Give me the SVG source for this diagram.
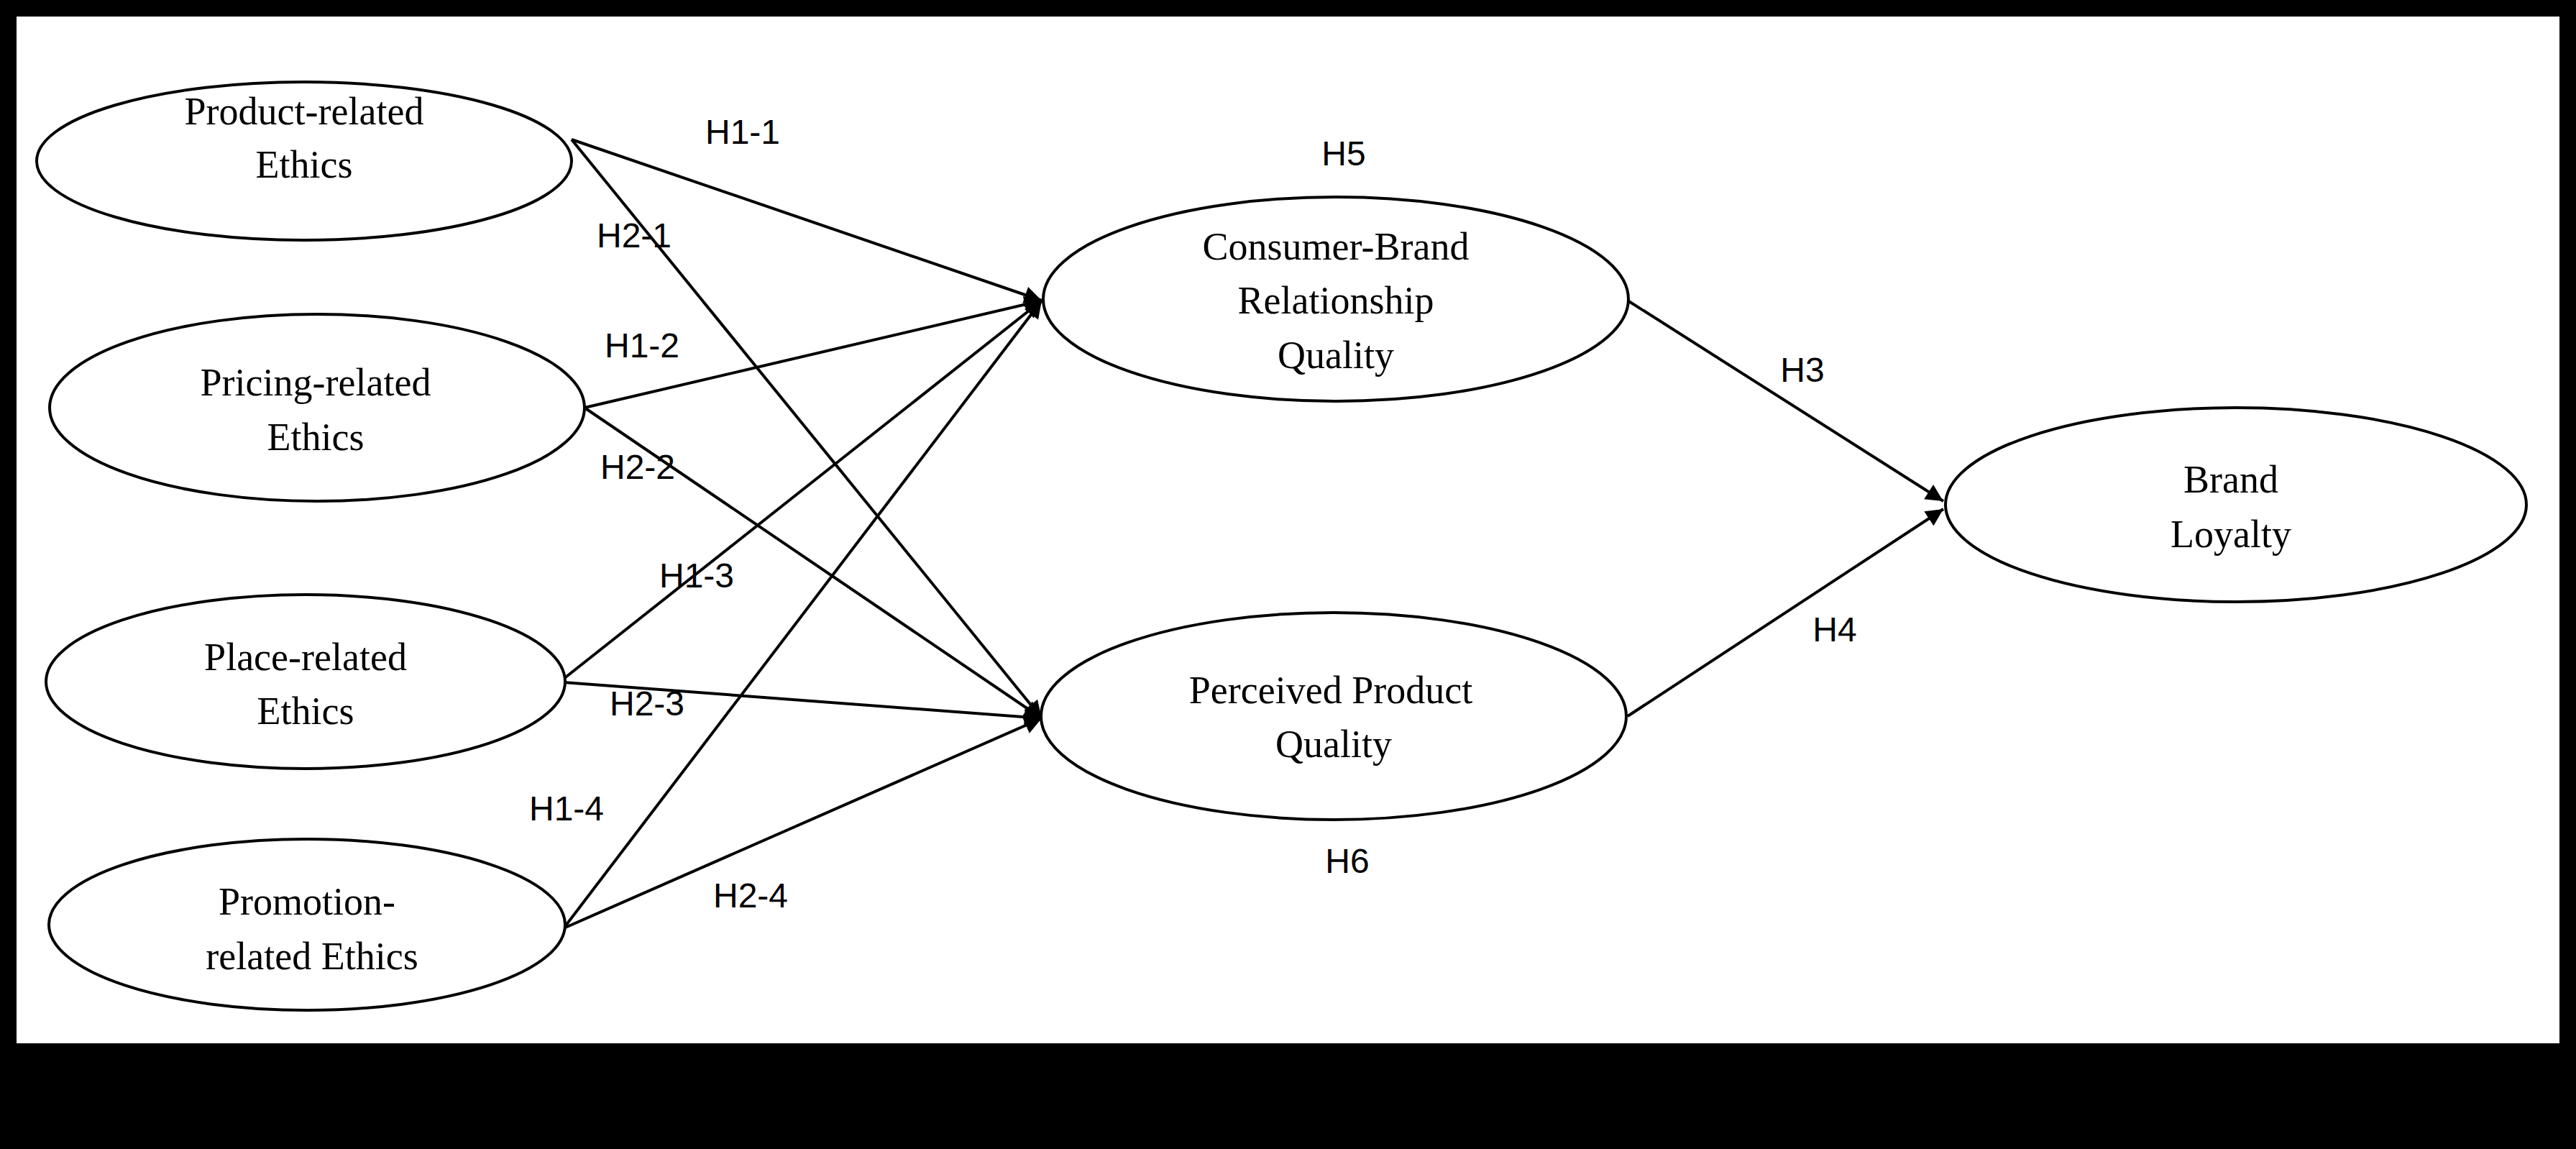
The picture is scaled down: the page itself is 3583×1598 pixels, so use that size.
<svg xmlns="http://www.w3.org/2000/svg" width="3583" height="1598" viewBox="0 0 3583 1598">
<style>
.n{fill:#fff;stroke:#000;stroke-width:4}
.t{font-family:"Liberation Serif",serif;font-size:54px;text-anchor:middle;fill:#000}
.h{font-family:"Liberation Sans",sans-serif;font-size:48px;text-anchor:middle;fill:#000}
.c line{stroke:#000;stroke-width:4;marker-end:url(#a)}
</style>
<defs><marker id="a" viewBox="0 0 10 10" refX="10" refY="5" markerWidth="8" markerHeight="8" markerUnits="userSpaceOnUse" orient="auto" style="overflow:visible"><path d="M0,0 L10,5 L0,10 z" fill="#000" transform="scale(3) translate(-6.7,-3.3)"/></marker></defs>
<rect width="3583" height="1598" fill="#000"/>
<rect x="23" y="23" width="3537" height="1428" fill="#fff"/>
<g class="c">
<line x1="795" y1="194" x2="1449" y2="418"/>
<line x1="795" y1="194" x2="1449" y2="999"/>
<line x1="813" y1="567" x2="1449" y2="418"/>
<line x1="813" y1="567" x2="1449" y2="999"/>
<line x1="784" y1="944" x2="1449" y2="418"/>
<line x1="784" y1="949" x2="1449" y2="999"/>
<line x1="784" y1="1291" x2="1449" y2="418"/>
<line x1="784" y1="1291" x2="1449" y2="999"/>
<line x1="2264" y1="418" x2="2703" y2="697"/>
<line x1="2264" y1="996" x2="2703" y2="708"/>
</g>
<g id="product"><ellipse class="n" cx="423" cy="224" rx="372" ry="110"/><text class="t" x="423" y="173">Product-related</text><text class="t" x="423" y="247">Ethics</text></g>
<g id="pricing"><ellipse class="n" cx="441" cy="567" rx="372" ry="130"/><text class="t" x="439" y="550">Pricing-related</text><text class="t" x="439" y="626">Ethics</text></g>
<g id="place"><ellipse class="n" cx="425" cy="948" rx="361" ry="121"/><text class="t" x="425" y="932">Place-related</text><text class="t" x="425" y="1007">Ethics</text></g>
<g id="promotion"><ellipse class="n" cx="427" cy="1286" rx="359" ry="119"/><text class="t" x="427" y="1272">Promotion-</text><text class="t" x="434" y="1348">related Ethics</text></g>
<g id="cbrq"><ellipse class="n" cx="1858" cy="416" rx="407" ry="142"/><text class="t" x="1858" y="361">Consumer-Brand</text><text class="t" x="1858" y="436">Relationship</text><text class="t" x="1858" y="512">Quality</text></g>
<g id="ppq"><ellipse class="n" cx="1855" cy="996" rx="407" ry="144"/><text class="t" x="1851" y="978">Perceived Product</text><text class="t" x="1855" y="1053">Quality</text></g>
<g id="loyalty"><ellipse class="n" cx="3110" cy="702" rx="404" ry="135"/><text class="t" x="3103" y="685">Brand</text><text class="t" x="3103" y="761">Loyalty</text></g>
<g id="labels">
<text class="h" x="1033" y="200">H1-1</text>
<text class="h" x="882" y="344">H2-1</text>
<text class="h" x="893" y="497">H1-2</text>
<text class="h" x="887" y="666">H2-2</text>
<text class="h" x="969" y="817">H1-3</text>
<text class="h" x="900" y="995">H2-3</text>
<text class="h" x="788" y="1141">H1-4</text>
<text class="h" x="1044" y="1262">H2-4</text>
<text class="h" x="1869" y="230">H5</text>
<text class="h" x="1874" y="1214">H6</text>
<text class="h" x="2507" y="531">H3</text>
<text class="h" x="2552" y="892">H4</text>
</g>
</svg>
